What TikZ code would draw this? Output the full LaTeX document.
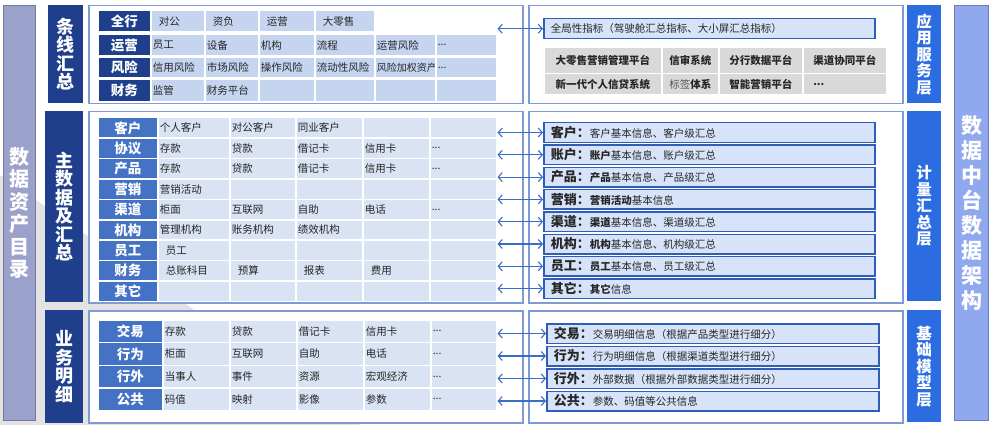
\documentclass[tikz,border=0pt]{standalone}
\usepackage{fontspec}
\setmainfont{Noto Sans CJK SC}
\usetikzlibrary{positioning, calc, arrows.meta}
\setlength{\parindent}{0pt}
\definecolor{Navy}{HTML}{1F3F8C}
\definecolor{MidBlue}{HTML}{4472C4}
\definecolor{CellTop}{HTML}{C5D5F0}
\definecolor{CellLight}{HTML}{DAE3F3}
\definecolor{Frame}{HTML}{7F9CD9}
\definecolor{BarFill}{HTML}{D6E3F8}
\definecolor{BarLine}{HTML}{2F5DB8}
\definecolor{Layer}{HTML}{2B6DE1}
\definecolor{SideLeft}{HTML}{9AA2CB}
\definecolor{SideRight}{HTML}{8FA8EE}
\definecolor{SysGray}{HTML}{D9D9D9}
\definecolor{BgGray}{HTML}{E3E3E3}
\definecolor{Ink}{HTML}{262626}
\definecolor{Arrow}{HTML}{3C6DC5}
\definecolor{White}{HTML}{FFFFFF}
\tikzset{
    sidebar/.style={rectangle, anchor=north west, fill=#1, draw=#1!75!black, line width=1pt, text=White, align=center, inner sep=0pt, font=\bfseries\fontsize{20}{22.5}\selectfont},
    seclabel/.style={rectangle, anchor=north west, fill=Navy, text=White, align=center, inner sep=0pt, minimum width=38, font=\bfseries\fontsize{18}{18.5}\selectfont},
    layer/.style={rectangle, anchor=north west, fill=Layer, text=White, align=center, inner sep=0pt, minimum width=34, font=\bfseries\fontsize{15.5}{16.5}\selectfont},
    frame/.style={rectangle, anchor=north west, draw=Frame, line width=1.5pt, fill=White, inner sep=0pt},
    hdcell/.style={rectangle, anchor=north west, fill=#1, draw=White, line width=1.5pt, text=White, inner sep=0pt, font=\bfseries\fontsize{13.5}{13.5}\selectfont},
    cell/.style={rectangle, anchor=north west, fill=#1, draw=White, line width=1.5pt, text=Ink, inner sep=0pt, align=left, font=\fontsize{10.5}{12}\selectfont},
    sysbox/.style={cell=SysGray, align=center, font=\bfseries\fontsize{10.5}{12}\selectfont},
    infobar/.style={rectangle, anchor=north west, fill=BarFill, draw=BarLine, line width=1.5pt, text=Ink, inner sep=0pt, align=left, font=\fontsize{10.5}{12}\selectfont},
    link/.style={{Straight Barb[length=4pt,width=9pt]}-{Straight Barb[length=4pt,width=9pt]}, line width=1.1pt, color=Arrow},
}

\begin{document}
\begin{tikzpicture}[x=1pt, y=-1pt]
    \useasboundingbox (0,0) rectangle (990,425);
    \fill[BgGray] (0,175) -- (0,425) -- (360,425) -- cycle;

    % outer bars
    \node[sidebar=SideLeft, minimum width=32, minimum height=415] (asset) at (3,5) {数\\据\\资\\产\\目\\录};
    \node[sidebar=SideRight, minimum width=34, minimum height=415, font=\bfseries\fontsize{21}{25}\selectfont] (arch) at (954,5) {数\\据\\中\\台\\数\\据\\架\\构};

    % section labels and frames
    \node[seclabel, minimum width=35, minimum height=98] (sec1) at (48,5) {条\\线\\汇\\总};
    \node[seclabel, minimum height=191] (sec2) at (45,111) {主\\数\\据\\及\\汇\\总};
    \node[seclabel, minimum height=113] (sec3) at (45,310) {业\\务\\明\\细};

    \node[frame, minimum width=434, minimum height=98] (lf1) at (88,5) {};
    \node[frame, minimum width=434, minimum height=191] (lf2) at (88,111) {};
    \node[frame, minimum width=434, minimum height=112] (lf3) at (88,310) {};
    \node[frame, minimum width=374, minimum height=98] (rf1) at (528,5) {};
    \node[frame, minimum width=374, minimum height=191] (rf2) at (528,111) {};
    \node[frame, minimum width=374, minimum height=112] (rf3) at (528,310) {};

    \node[layer, minimum height=98] (lay1) at (907,5) {应\\用\\服\\务\\层};
    \node[layer, minimum height=190] (lay2) at (907,111) {计\\量\\汇\\总\\层};
    \node[layer, minimum height=112] (lay3) at (907,310) {基\\础\\模\\型\\层};

    % 条线汇总
    \node[hdcell=Navy, minimum width=53, minimum height=21] (qh) at (97,10) {全行};
    \foreach \x/\w/\t [count=\k] in {150/54/对公, 204/54/资负, 258/56/运营, 314/60/大零售}
        \node[cell=CellTop, text width=\w pt, minimum height=21] (q-\k) at (\x,10) {\hspace*{8pt}\t};
    \foreach \y/\h/\hd/\ta/\tb/\tc/\td/\te/\tf [count=\r] in {34/21/运营/员工/设备/机构/流程/运营风险/{.{}.{}.}, 57/20/风险/信用风险/市场风险/操作风险/流动性风险/{\fontsize{10}{12}\selectfont 风险加权资产}/{.{}.{}.}, 79/22/财务/监管/财务平台/{}/{}/{}/{}} {
        \node[hdcell=Navy, minimum width=53, minimum height=\h] (r\r h) at (97,\y) {\hd};
        \foreach \x/\w/\t [count=\k] in {150/54/\ta, 204/54/\tb, 258/56/\tc, 314/60/\td, 374/61/\te, 435/61/\tf}
            \node[cell=CellTop, text width=\w pt, minimum height=\h] (r\r-\k) at (\x,\y) {\hspace*{2pt}\t};
    }

    % 主数据及汇总
    \foreach \hd/\ta/\tb/\tc/\td/\te [count=\r] in {客户/个人客户/对公客户/同业客户/{}/{}, 协议/存款/贷款/借记卡/信用卡/{.{}.{}.}, 产品/存款/贷款/借记卡/信用卡/{.{}.{}.}, 营销/营销活动/{}/{}/{}/{}, 渠道/柜面/互联网/自助/电话/{.{}.{}.}, 机构/管理机构/账务机构/绩效机构/{}/{}, 员工/\hspace*{6pt}员工/{}/{}/{}/{}, 财务/\hspace*{6pt}总账科目/\hspace*{6pt}预算/\hspace*{6pt}报表/\hspace*{6pt}费用/{}, 其它/{}/{}/{}/{}/{}} {
        \pgfmathsetmacro\y{117+(\r-1)*20.4}
        \node[hdcell=MidBlue, minimum width=60, minimum height=20.4] (m\r h) at (97,\y) {\hd};
        \foreach \x/\w/\t [count=\k] in {157/72/\ta, 229/66/\tb, 295/67/\tc, 362/67/\td, 429/67/\te}
            \node[cell=CellLight, text width=\w pt, minimum height=20.4] (m\r-\k) at (\x,\y) {\hspace*{2pt}\t};
    }

    % 业务明细
    \foreach \hd/\ta/\tb/\tc/\td [count=\r] in {交易/存款/贷款/借记卡/信用卡, 行为/柜面/互联网/自助/电话, 行外/当事人/事件/资源/宏观经济, 公共/码值/映射/影像/参数} {
        \pgfmathsetmacro\y{319+(\r-1)*22.75}
        \node[hdcell=MidBlue, minimum width=65, minimum height=22.75] (n\r h) at (97,\y) {\hd};
        \foreach \x/\w/\t [count=\k] in {162/67/\ta, 229/67/\tb, 296/67/\tc, 363/67/\td, 430/66/{.{}.{}.}}
            \node[cell=CellLight, text width=\w pt, minimum height=22.75] (n\r-\k) at (\x,\y) {\hspace*{2pt}\t};
    }

    % 应用服务层
    \node[infobar, text width=331pt, minimum height=20] (glob) at (543,18) {\hspace*{7pt}全局性指标（驾驶舱汇总指标、大小屏汇总指标）};
    \draw[link] (r1-6.east |- glob.west) -- (glob.west);
    \foreach \x/\w/\t [count=\k] in {543/118/大零售营销管理平台, 661/57/信审系统, 718/84/分行数据平台, 802/84/渠道协同平台}
        \node[sysbox, minimum width=\w, minimum height=26] (s1-\k) at (\x,47) {\t};
    \foreach \x/\w/\t [count=\k] in {543/118/新一代个人信贷系统, 661/57/{{\mdseries\color{Ink!80}标签}体系}, 718/84/智能营销平台, 802/84/{\makebox[63pt][l]{.{}.{}.}}}
        \node[sysbox, minimum width=\w, minimum height=21] (s2-\k) at (\x,73) {\t};

    % 计量汇总层
    \foreach \hd/\body [count=\r] in {客户/客户基本信息、客户级汇总, 账户/{\textbf{账户}基本信息、账户级汇总}, 产品/{\textbf{产品}基本信息、产品级汇总}, 营销/{\textbf{营销活动}基本信息}, 渠道/{\textbf{渠道}基本信息、渠道级汇总}, 机构/{\textbf{机构}基本信息、机构级汇总}, 员工/{\textbf{员工}基本信息、员工级汇总}, 其它/{\textbf{其它}信息}} {
        \pgfmathsetmacro\y{122+(\r-1)*22.3}
        \node[infobar, text width=331pt, minimum height=19.5] (b\r) at (543,\y) {\hspace*{7pt}{\bfseries\fontsize{13}{13}\selectfont\hd：}\body};
        \draw[link] (m\r-5.east |- b\r.west) -- (b\r.west);
    }

    % 基础模型层
    \foreach \hd/\body [count=\r] in {交易/交易明细信息（根据产品类型进行细分）, 行为/行为明细信息（根据渠道类型进行细分）, 行外/外部数据（根据外部数据类型进行细分）, 公共/参数、码值等公共信息} {
        \pgfmathsetmacro\y{323+(\r-1)*22.5}
        \node[infobar, text width=332pt, minimum height=19.5] (c\r) at (546,\y) {\hspace*{7pt}{\bfseries\fontsize{13}{13}\selectfont\hd：}\body};
        \draw[link] (n\r-5.east |- c\r.west) -- (c\r.west);
    }
\end{tikzpicture}
\end{document}
